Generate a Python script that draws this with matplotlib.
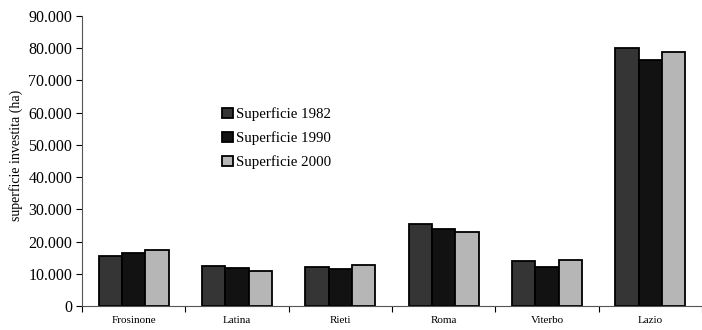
import numpy as np
import matplotlib.pyplot as plt
from matplotlib.ticker import FuncFormatter, FixedLocator

plt.rcParams['font.family'] = ['Liberation Serif', 'DejaVu Serif']

provinces = ['Frosinone', 'Latina', 'Rieti', 'Roma', 'Viterbo', 'Lazio']
series_labels = ['Superficie 1982', 'Superficie 1990', 'Superficie 2000']
sup_1982 = [15600, 12400, 12100, 25300, 14000, 80000]
sup_1990 = [16600, 11900, 11400, 23900, 12200, 76500]
sup_2000 = [17400, 10900, 12700, 23000, 14400, 78700]
colors = ['#353535', '#121212', '#b6b6b6']

fig = plt.figure(figsize=(7.02, 3.30), dpi=100)
ax = fig.add_axes([0.1168, 0.0727, 0.8832, 0.8788])

x = np.arange(len(provinces))
w = 0.225
for i, (vals, lab, c) in enumerate(zip([sup_1982, sup_1990, sup_2000], series_labels, colors)):
    ax.bar(x + (i - 1) * w, vals, width=w, color=c, edgecolor='black',
           linewidth=1.3, label=lab)

ax.set_xlim(-0.5, len(provinces) - 0.5)
ax.set_ylim(0, 90000)
ax.set_yticks(np.arange(0, 90001, 10000))
ax.yaxis.set_major_formatter(FuncFormatter(lambda v, p: f'{int(v):,}'.replace(',', '.')))
ax.tick_params(axis='y', labelsize=11.5, length=4, direction='out', pad=3)

# boundaries get tick marks, labels sit in the middle
ax.xaxis.set_major_locator(FixedLocator(np.arange(-0.5, len(provinces), 1.0)))
ax.xaxis.set_minor_locator(FixedLocator(x))
ax.set_xticklabels([], minor=False)
ax.set_xticklabels(provinces, minor=True)
ax.tick_params(axis='x', which='major', length=4, direction='out')
ax.tick_params(axis='x', which='minor', length=0, labelsize=8, pad=7)

ax.set_ylabel('superficie investita (ha)', fontsize=10, labelpad=0)
ax.yaxis.set_label_coords(-0.095, 0.52)

for s in ['top', 'right']:
    ax.spines[s].set_visible(False)
ax.spines['left'].set_color('#555555')
ax.spines['bottom'].set_color('#555555')

ax.legend(loc='upper left', bbox_to_anchor=(0.308, 0.692), bbox_transform=fig.transFigure,
          frameon=False, fontsize=10.7, handlelength=0.72, handleheight=0.72,
          handletextpad=0.2, labelspacing=0.68, borderaxespad=0)

fig.savefig('out.png', dpi=100)
